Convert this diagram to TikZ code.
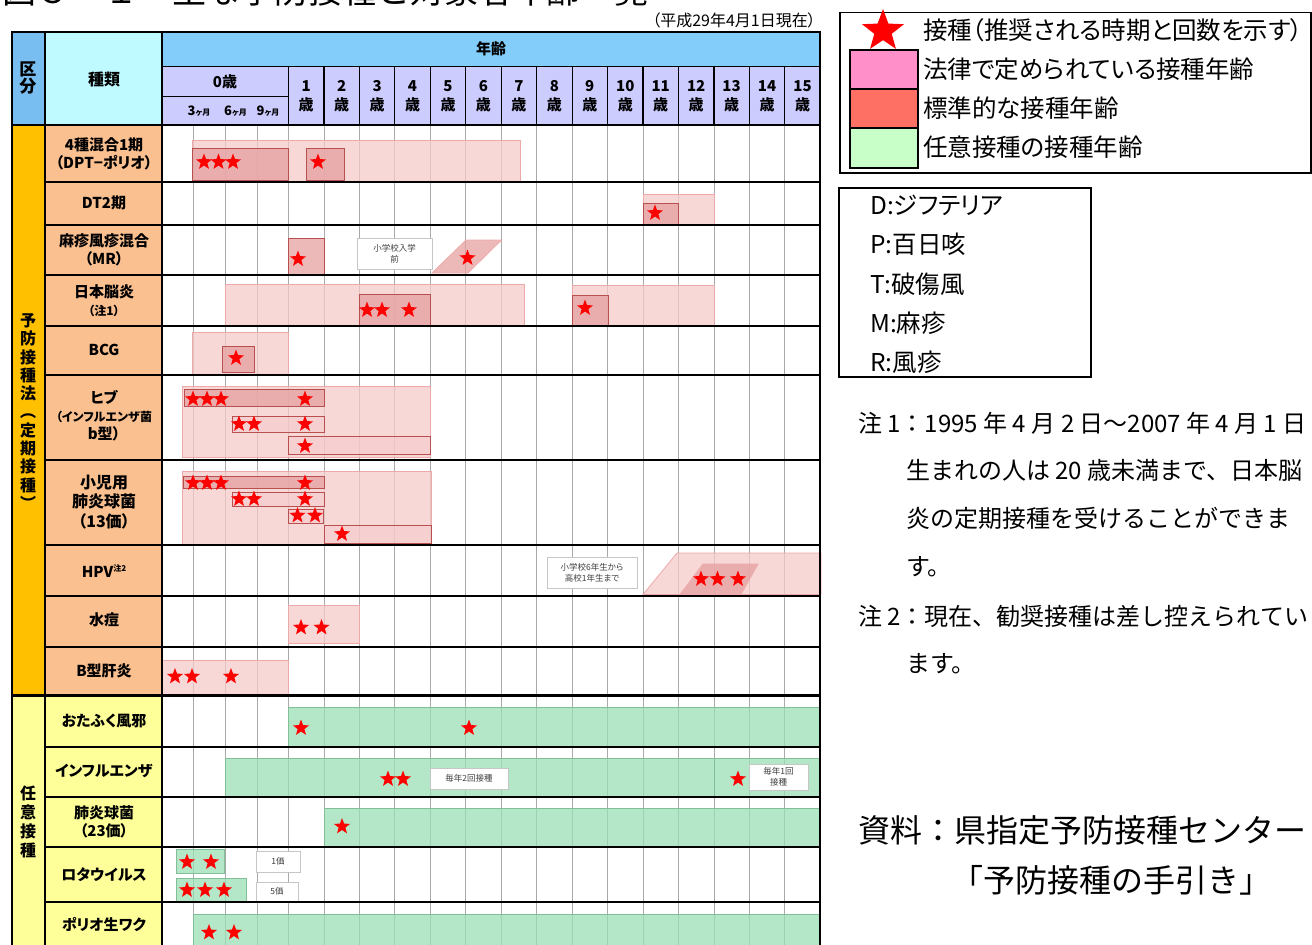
\documentclass[tikz,border=0pt]{standalone}
\usepackage{fontspec}
\setmainfont{Noto Sans CJK JP}
\newfontfamily\jp{Noto Sans CJK JP}[RawFeature=+palt]
\usetikzlibrary{shapes.geometric}
\definecolor{kubunblue}{RGB}{120,190,240}
\definecolor{kindcyan}{RGB}{190,250,255}
\definecolor{agesky}{RGB}{130,205,250}
\definecolor{agelav}{RGB}{204,204,255}
\definecolor{teikiorange}{RGB}{255,192,0}
\definecolor{kindpeach}{RGB}{250,192,144}
\definecolor{niniyellow}{RGB}{255,255,153}
\definecolor{lawpink}{RGB}{245,201,201}
\definecolor{lawedge}{RGB}{238,170,170}
\definecolor{stdpink}{RGB}{231,160,160}
\definecolor{stdedge}{RGB}{185,80,80}
\definecolor{optgreen}{RGB}{155,222,182}
\definecolor{optedge}{RGB}{130,190,150}
\definecolor{gridgrey}{RGB}{170,170,170}
\definecolor{starred}{RGB}{255,0,0}
\definecolor{legpink}{RGB}{255,143,200}
\definecolor{legsalmon}{RGB}{255,112,100}
\definecolor{leggreen}{RGB}{200,255,200}
\newcommand\fsz[2]{\fontsize{#1}{#2}\selectfont}

\begin{document}
\begin{tikzpicture}[x=1pt, y=-1pt,
    rowline/.style={line width=1.8pt},
    gridline/.style={gridgrey, line width=0.8pt},
    kind/.style={font=\jp\bfseries\fsz{15}{18}, align=center, inner sep=0pt},
    hdr/.style={font=\jp\bfseries\fsz{15}{19}, align=center, inner sep=0pt},
    lawbar/.style={fill=lawpink, draw=lawedge, fill opacity=0.75, line width=0.8pt},
    stdbar/.style={fill=stdpink, draw=stdedge, fill opacity=0.75, line width=0.8pt},
    stdline/.style={fill=lawpink, draw=stdedge, fill opacity=0.5, line width=1pt},
    optbar/.style={fill=optgreen, draw=optedge, fill opacity=0.75, line width=0.8pt},
    vstar/.style={star, star points=5, star point ratio=2.4, fill=starred, inner sep=0pt, minimum size=17pt},
    memo/.style={fill=white, draw=gray!45, text=black!75, font=\jp\fsz{8.5}{11}, align=center, inner sep=1pt},
    legtxt/.style={font=\jp\fsz{24.5}{28}, anchor=west, inner sep=0pt},
    note/.style={font=\fsz{24}{28}, anchor=west, inner sep=0pt}]
\useasboundingbox (0,0) rectangle (1312,945);

% title (cut at the top edge)
\node[font=\fsz{34}{40}, anchor=base west, inner sep=0pt] (title) at (2,3) {図３－１　主な予防接種と対象者年齢一覧};
\node[font=\jp\fsz{16}{18}, anchor=east, inner sep=0pt] (asof) at (816,20) {（平成29年4月1日現在）};

% header cells
\fill[kubunblue] (12,32) rectangle (45,125);
\fill[kindcyan] (45,32) rectangle (162,125);
\fill[agesky] (162,32) rectangle (820,66.5);
\fill[agelav] (162,66.5) rectangle (820,125);
% body cells
\fill[teikiorange] (12,125) rectangle (45,695);
\fill[niniyellow] (12,695) rectangle (45,950);
\fill[kindpeach] (45,125) rectangle (162,695);
\fill[niniyellow] (45,695) rectangle (162,950);

% grid
\foreach \x in {193,225,257} \draw[gridline] (\x,125) -- (\x,950);
\foreach \k [evaluate=\k as \xl using 288.5+(\k-1)*35.45] in {1,...,15} {
  \draw[gridline] (\xl,125) -- (\xl,950);
  \draw[line width=1.2pt] (\xl,66.5) -- (\xl,125);
  \node[hdr] (y\k) at (\xl+17.7,96.5) {\k\\歳};
}

\node[hdr, font=\jp\bfseries\fsz{17}{17}] (kubun) at (28,78.5) {区\\分};
\node[hdr, font=\jp\bfseries\fsz{16}{18}] (shurui) at (104,79) {種類};
\node[hdr] (nenrei) at (491,48.5) {年齢};
\node[hdr] (y0) at (225,81.5) {0歳};
\node[hdr, font=\jp\bfseries\fsz{13}{15}] (m3) at (199,111.5) {3{\fsz{8}{8}ヶ月}};
\node[hdr, font=\jp\bfseries\fsz{13}{15}] (m6) at (235.5,111.5) {6{\fsz{8}{8}ヶ月}};
\node[hdr, font=\jp\bfseries\fsz{13}{15}] (m9) at (268,111.5) {9{\fsz{8}{8}ヶ月}};

% categories
\node[hdr, font=\jp\bfseries\fsz{16}{18.3}] (teiki) at (28,411.5) {予\\防\\接\\種\\法\\︵\\定\\期\\接\\種\\︶};
\node[hdr, font=\jp\bfseries\fsz{16}{19}] (nini) at (28,821.5) {任\\意\\接\\種};

% vaccines
\node[kind] (dpt) at (104,154) {4種混合1期\\（DPT−ポリオ）};
\node[kind] (dt) at (104,203) {DT2期};
\node[kind] (mr) at (104,250) {麻疹風疹混合\\（MR）};
\node[kind] (jev) at (104,301) {日本脳炎\\\fsz{12}{14}（注1）};
\node[kind] (hib) at (104,416) {ヒブ\\\fsz{12}{14}（インフルエンザ菌\\b型）};
\node[kind] (bcg) at (104,350) {BCG};
\node[kind, font=\jp\bfseries\fsz{16}{19.5}] (pcv) at (104,502) {小児用\\肺炎球菌\\（13価）};
\node[kind] (hpv) at (104,571) {HPV\raisebox{0.45em}{\fsz{8}{8}注2}};
\node[kind] (vzv) at (104,620) {水痘};
\node[kind] (hbv) at (104,671) {B型肝炎};
\node[kind] (mumps) at (104,721) {おたふく風邪};
\node[kind] (flu) at (104,771) {インフルエンザ};
\node[kind] (ppsv) at (104,821.5) {肺炎球菌\\（23価）};
\node[kind] (rota) at (104,875) {ロタウイルス};
\node[kind] (opv) at (104,925) {ポリオ生ワク};

% age ranges
\draw[lawbar] (192,140) rectangle (520.5,182);
\draw[stdbar] (192,148) rectangle (288.5,180);
\draw[stdbar] (306,148) rectangle (344,180);
\draw[lawbar] (643,194) rectangle (714,225);
\draw[stdbar] (643,203) rectangle (678.5,225);
\draw[stdbar] (288.5,238) rectangle (324,275);
\draw[lawbar, fill=stdpink] (432,273) -- (466,240) -- (501.5,240) -- (468,273) -- cycle;
\draw[lawbar] (225,284) rectangle (524,326);
\draw[stdbar] (359.4,294) rectangle (430.3,325);
\draw[lawbar] (572,285) rectangle (714,326);
\draw[stdbar] (572,295) rectangle (608,325);
\draw[lawbar] (192,332) rectangle (288.5,375);
\draw[stdbar] (222,346) rectangle (254,372);
\draw[lawbar] (182,386) rectangle (430.3,457);
\draw[stdbar] (184,389) rectangle (324,406);
\draw[stdline] (232,416) rectangle (324,432);
\draw[stdline] (288.5,436) rectangle (430.3,454);
\draw[lawbar] (182,471) rectangle (431,545);
\draw[stdbar] (183,476) rectangle (324,488.5);
\draw[stdline] (232,492) rectangle (324,506);
\draw[stdline] (288.5,509) rectangle (323,523);
\draw[stdline] (324,525) rectangle (431,543);
\draw[lawbar] (643,594.5) -- (677,553) -- (821,553) -- (821,594.5) -- cycle;
\draw[stdbar, draw=lawedge] (680,594.5) -- (703,564) -- (758,564) -- (741,594.5) -- cycle;
\draw[lawbar] (288.5,605) rectangle (359,643);
\draw[lawbar] (162,660) rectangle (288.5,695);
\draw[optbar] (288.5,707) rectangle (820,746);
\draw[optbar] (225,758) rectangle (714,796);
\draw[optbar] (714,758) rectangle (820,796);
\draw[optbar] (324,808) rectangle (820,847);
\draw[optbar] (176,849) rectangle (224,873);
\draw[optbar] (176,878) rectangle (246,902);
\draw[optbar] (193,914) rectangle (820,950);

% notes in the chart
\node[memo, minimum width=75pt, minimum height=31pt] (mrmemo) at (394.5,253.5) {小学校入学\\前};
\node[memo, minimum width=90pt, minimum height=31pt] (hpvmemo) at (592,572.5) {小学校6年生から\\高校1年生まで};
\node[memo, minimum width=78pt, minimum height=21pt] (flu2) at (469,778.5) {毎年2回接種};
\node[memo, minimum width=59pt, minimum height=26pt] (flu1) at (778.5,777) {毎年1回\\接種};
\node[memo, minimum width=44pt, minimum height=21pt] (rota1) at (278,861.5) {1価};
\node[memo, minimum width=42pt, minimum height=19pt] (rota5) at (277,891.5) {5価};

% stars
\foreach \x/\y [count=\i] in {204/162, 218.5/162, 233/162, 318/162, 655/213,
    298/259, 467.5/258, 367/310, 382/310, 409/310, 585/308, 236/358,
    193/399, 207/399, 221/399, 305/399, 239/424, 254/424, 305/424, 305/446,
    193/483, 207/483, 221/483, 305/483, 239/499, 254/499, 305/499,
    297.5/515.5, 315/515.5, 342/534, 701/579, 717.5/579, 738/579,
    301/627.5, 321.5/627.5, 175/676.5, 192/676.5, 231/676.5,
    301/728, 469/728, 388/779, 403/779, 738/779, 342/826.5,
    187/862, 211/862, 187/890, 205/890, 224/890, 209/932.5, 234/932.5}
  \node[vstar] (st\i) at (\x,\y) {};

% table rules
\foreach \y in {182,225,275,326,375,460,545,596,647,747,797,847,902}
  \draw[rowline] (45,\y) -- (820,\y);
\draw[rowline, line width=3pt] (12,695) -- (820,695);
\draw[rowline] (12,125) -- (820,125);
\draw[rowline] (162,66.5) -- (820,66.5);
\draw[rowline] (162,96.5) -- (288.5,96.5);
\draw[rowline] (45,32) -- (45,950);
\draw[rowline] (162,32) -- (162,950);
\draw[line width=2.5pt] (12,950) -- (12,32) -- (820,32) -- (820,950);

% legend
\draw[line width=1.5pt] (840,12.5) rectangle (1311,173);
\node[vstar, minimum size=44pt] (legstar) at (883,31) {};
\draw[line width=2.5pt, fill=legpink] (850,50) rectangle (918,89);
\draw[line width=2.5pt, fill=legsalmon] (850,89) rectangle (918,128);
\draw[line width=2.5pt, fill=leggreen] (850,128) rectangle (918,168);
\node[legtxt] (leg1) at (923,30) {接種（推奨される時期と回数を示す）};
\node[legtxt] (leg2) at (923,69) {法律で定められている接種年齢};
\node[legtxt] (leg3) at (923,108) {標準的な接種年齢};
\node[legtxt] (leg4) at (923,147) {任意接種の接種年齢};

\draw[line width=1.5pt] (839,188) rectangle (1091,377);
\node[legtxt] (abbd) at (870,205) {D:ジフテリア};
\node[legtxt] (abbp) at (870,244.5) {P:百日咳};
\node[legtxt] (abbt) at (870,284) {T:破傷風};
\node[legtxt] (abbm) at (870,323) {M:麻疹};
\node[legtxt] (abbr) at (870,362) {R:風疹};

% footnotes
\node[note] (n1a) at (858,423) {注 1：1995 年 4 月 2 日～2007 年 4 月 1 日};
\node[note] (n1b) at (906,470) {生まれの人は 20 歳未満まで、日本脳};
\node[note] (n1c) at (906,518) {炎の定期接種を受けることができま};
\node[note] (n1d) at (906,567) {す。};
\node[note] (n2a) at (858,616) {注 2：現在、勧奨接種は差し控えられてい};
\node[note] (n2b) at (906,664) {ます。};

\node[font=\fsz{32}{36}, anchor=west, inner sep=0pt] (src) at (858,830) {資料：県指定予防接種センター};
\node[font=\fsz{32}{36}, inner sep=0pt] (srcb) at (1111,880) {「予防接種の手引き」};
\end{tikzpicture}
\end{document}
